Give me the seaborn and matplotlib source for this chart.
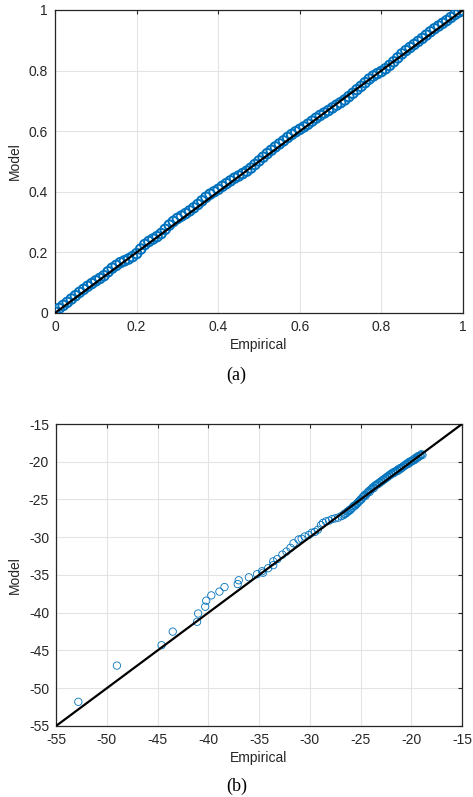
import numpy as np
import pandas as pd
import matplotlib
matplotlib.use("Agg")
import matplotlib.pyplot as plt
import seaborn as sns

# (a) P-P plot data
pp_empirical = [0.00, 0.01, 0.02, 0.03, 0.04, 0.05, 0.06, 0.07, 0.08, 0.09,
                0.10, 0.11, 0.12, 0.13, 0.14, 0.15, 0.16, 0.17, 0.18, 0.19,
                0.20, 0.21, 0.22, 0.23, 0.24, 0.25, 0.26, 0.27, 0.28, 0.29,
                0.30, 0.31, 0.32, 0.33, 0.34, 0.35, 0.36, 0.37, 0.38, 0.39,
                0.40, 0.41, 0.42, 0.43, 0.44, 0.45, 0.46, 0.47, 0.48, 0.49,
                0.50, 0.51, 0.52, 0.53, 0.54, 0.55, 0.56, 0.57, 0.58, 0.59,
                0.60, 0.61, 0.62, 0.63, 0.64, 0.65, 0.66, 0.67, 0.68, 0.69,
                0.70, 0.71, 0.72, 0.73, 0.74, 0.75, 0.76, 0.77, 0.78, 0.79,
                0.80, 0.81, 0.82, 0.83, 0.84, 0.85, 0.86, 0.87, 0.88, 0.89,
                0.90, 0.91, 0.92, 0.93, 0.94, 0.95, 0.96, 0.97, 0.98, 0.99, 1.00]
pp_model = [0.003, 0.015, 0.025, 0.035, 0.046, 0.057, 0.068, 0.078, 0.088, 0.097,
            0.106, 0.114, 0.123, 0.136, 0.148, 0.157, 0.166, 0.172, 0.178, 0.186,
            0.196, 0.211, 0.226, 0.236, 0.244, 0.252, 0.262, 0.276, 0.290, 0.302,
            0.312, 0.320, 0.328, 0.337, 0.347, 0.358, 0.370, 0.382, 0.392, 0.400,
            0.408, 0.418, 0.427, 0.436, 0.445, 0.452, 0.460, 0.468, 0.478, 0.490,
            0.502, 0.514, 0.526, 0.537, 0.548, 0.558, 0.568, 0.579, 0.589, 0.598,
            0.606, 0.614, 0.623, 0.633, 0.643, 0.652, 0.660, 0.668, 0.677, 0.686,
            0.694, 0.703, 0.714, 0.725, 0.737, 0.748, 0.760, 0.772, 0.782, 0.790,
            0.797, 0.806, 0.817, 0.829, 0.842, 0.855, 0.866, 0.876, 0.886, 0.896,
            0.906, 0.917, 0.928, 0.938, 0.947, 0.956, 0.965, 0.975, 0.985, 0.993, 0.998]

# (b) Q-Q plot data: tail points plus the dense upper part
qq_empirical = [-52.8, -49.0, -44.6, -43.5, -41.1, -41.0, -40.3, -40.2, -39.7, -38.9,
                -38.4, -37.1, -37.0, -36.0, -35.2, -34.7, -34.6, -34.1, -33.6, -33.6,
                -33.2, -32.7, -32.3, -31.9, -31.6, -31.1, -30.8, -30.5, -30.1, -29.8,
                -29.5, -29.2, -28.9, -28.7, -28.4, -28.1, -27.8, -27.5, -27.2, -26.9,
                -26.7, -26.5, -26.3, -26.1, -25.9, -25.7, -25.5, -25.3, -25.1, -24.9,
                -24.7, -24.5, -24.3, -24.1, -23.9, -23.7, -23.5, -23.3, -23.1, -22.9,
                -22.7, -22.5, -22.3, -22.1, -21.9, -21.7, -21.5, -21.3, -21.1, -20.9,
                -20.7, -20.5, -20.3, -20.1, -19.9, -19.7, -19.5, -19.3, -19.1, -18.9,
                -26.6, -26.4, -26.2, -26.0, -25.8, -25.6, -25.4, -25.2, -25.0, -24.8,
                -24.6, -24.4, -24.2, -24.0, -23.8, -23.6, -23.4, -23.2, -23.0, -22.8,
                -22.6, -22.4, -22.2, -22.0, -21.8, -21.6, -21.4, -21.2, -21.0, -20.8,
                -20.6, -20.4, -20.2, -20.0, -19.8, -19.6, -19.4, -19.2, -19.0]
qq_model = [-51.8, -47.0, -44.3, -42.5, -41.2, -40.1, -39.2, -38.4, -37.7, -37.2,
            -36.6, -36.2, -35.7, -35.3, -34.9, -34.5, -34.7, -34.1, -33.7, -33.2,
            -32.9, -32.3, -31.9, -31.4, -30.8, -30.3, -30.2, -29.9, -29.7, -29.4,
            -29.3, -29.0, -28.4, -28.1, -27.9, -27.8, -27.6, -27.5, -27.4, -27.2,
            -27.1, -26.9, -26.6, -26.4, -26.2, -25.9, -25.8, -25.5, -25.2, -25.0,
            -24.6, -24.5, -24.1, -24.0, -23.6, -23.5, -23.1, -23.0, -22.8, -22.6,
            -22.4, -22.2, -22.0, -21.8, -21.6, -21.5, -21.3, -21.2, -21.0, -20.8,
            -20.6, -20.4, -20.3, -20.1, -19.9, -19.8, -19.6, -19.4, -19.2, -19.1,
            -26.9, -26.8, -26.6, -26.4, -26.1, -25.8, -25.6, -25.3, -25.0, -24.7,
            -24.4, -24.2, -23.9, -23.7, -23.4, -23.2, -23.0, -22.8, -22.6, -22.4,
            -22.2, -22.0, -21.8, -21.6, -21.4, -21.3, -21.1, -20.9, -20.8, -20.6,
            -20.4, -20.2, -20.0, -19.9, -19.7, -19.5, -19.3, -19.2, -19.0]

ref_a = [0, 1]
ref_b = [-55, -15]

a_ticks = [0, 0.2, 0.4, 0.6, 0.8, 1]
a_ticklabels = ["0", "0.2", "0.4", "0.6", "0.8", "1"]
b_ticks = [-55, -50, -45, -40, -35, -30, -25, -20, -15]

blue = "#0072BD"
dark = "#262626"

sns.set_style("whitegrid")
plt.rcParams["font.family"] = ["Liberation Sans", "DejaVu Sans"]
plt.rcParams["axes.unicode_minus"] = False

fig = plt.figure(figsize=(4.73, 7.97), dpi=100)
ax_a = fig.add_axes([0.1163, 0.6073, 0.8626, 0.3802])
ax_b = fig.add_axes([0.1184, 0.0891, 0.8584, 0.3789])

df_a = pd.DataFrame({"Empirical": pp_empirical, "Model": pp_model})
df_b = pd.DataFrame({"Empirical": qq_empirical, "Model": qq_model})

sns.scatterplot(data=df_a, x="Empirical", y="Model", ax=ax_a, marker="o", s=48,
                facecolor="none", edgecolor=blue, linewidth=1.4, zorder=3)
sns.lineplot(x=ref_a, y=ref_a, ax=ax_a, color="black", linewidth=1.6, zorder=4)

sns.scatterplot(data=df_b, x="Empirical", y="Model", ax=ax_b, marker="o", s=28,
                facecolor="none", edgecolor=blue, linewidth=0.6, zorder=3)
sns.lineplot(x=ref_b, y=ref_b, ax=ax_b, color="black", linewidth=1.6, zorder=4)

ax_a.set_xlim(0, 1)
ax_a.set_ylim(0, 1)
ax_a.set_xticks(a_ticks, a_ticklabels)
ax_a.set_yticks(a_ticks, a_ticklabels)
ax_b.set_xlim(-55, -15)
ax_b.set_ylim(-55, -15)
ax_b.set_xticks(b_ticks)
ax_b.set_yticks(b_ticks)

for ax in (ax_a, ax_b):
    ax.tick_params(direction="in", length=3, width=0.8, colors=dark, labelsize=10,
                   top=True, right=True, pad=5)
    for sp in ax.spines.values():
        sp.set_color(dark)
        sp.set_linewidth(0.9)
    ax.grid(True, color="#e3e3e3", linewidth=0.8)
    ax.set_axisbelow(True)
    ax.set_xlabel("Empirical", fontsize=10, color=dark, labelpad=3)
    ax.set_ylabel("Model", fontsize=10, color=dark, labelpad=5)

fig.text(0.5, 1 - 375 / 797, "(a)", ha="center", va="center",
         family=["Liberation Serif", "DejaVu Serif"], fontsize=13, color="black")
fig.text(0.5, 1 - 786 / 797, "(b)", ha="center", va="center",
         family=["Liberation Serif", "DejaVu Serif"], fontsize=13, color="black")

fig.savefig("out.png", dpi=100)
